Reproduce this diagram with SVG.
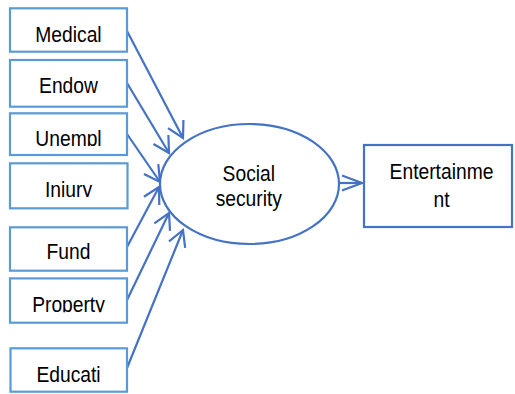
<svg xmlns="http://www.w3.org/2000/svg" width="515" height="394" viewBox="0 0 515 394">
  <style>
    .box { fill: #ffffff; stroke: #5B9BD5; stroke-width: 2.2; }
    .lbl { font-family: "Liberation Sans", Arial, sans-serif; font-size: 22px; fill: #000000; text-anchor: middle; }
    .conn { stroke: #4472C4; stroke-width: 2.2; fill: none; }
    .main { fill: #ffffff; stroke: #4472C4; stroke-width: 2.2; }
  </style>
  <defs>
    <marker id="arr" markerUnits="userSpaceOnUse" markerWidth="24" markerHeight="24" refX="19.7" refY="12" orient="auto" overflow="visible">
      <path d="M4,3.3 L19.7,12 L4,20.7" fill="none" stroke="#4472C4" stroke-width="2.2"/>
    </marker>
    <marker id="arrR" markerUnits="userSpaceOnUse" markerWidth="24" markerHeight="24" refX="22" refY="12" orient="auto" overflow="visible">
      <path d="M2,4.5 L22,12 L2,19.5" fill="none" stroke="#4472C4" stroke-width="2.2"/>
    </marker>
    <clipPath id="clipUnempl"><rect x="0" y="100" width="140" height="46"/></clipPath>
    <clipPath id="clipInjury"><rect x="0" y="160" width="140" height="37"/></clipPath>
    <clipPath id="clipProperty"><rect x="0" y="270" width="140" height="42.2"/></clipPath>
  </defs>

  <g id="connectors">
    <line class="conn" x1="127" y1="31" x2="183" y2="138" marker-end="url(#arr)"/>
    <line class="conn" x1="127" y1="83" x2="169" y2="153" marker-end="url(#arr)"/>
    <line class="conn" x1="127" y1="134" x2="160" y2="182" marker-end="url(#arr)"/>
    <line class="conn" x1="127" y1="247" x2="159" y2="187" marker-end="url(#arr)"/>
    <line class="conn" x1="127" y1="300" x2="169" y2="213" marker-end="url(#arr)"/>
    <line class="conn" x1="127" y1="368" x2="183" y2="230" marker-end="url(#arr)"/>
    <line class="conn" x1="339" y1="183" x2="362" y2="183" marker-end="url(#arrR)"/>
  </g>

  <g id="medical">
    <rect class="box" x="10" y="8.3" width="117" height="43.4"/>
    <text class="lbl" x="68.5" y="41.7" textLength="66.3" lengthAdjust="spacingAndGlyphs">Medical</text>
  </g>
  <g id="endow">
    <rect class="box" x="10" y="60" width="117" height="46.7"/>
    <text class="lbl" x="68.5" y="92.7" textLength="58.8" lengthAdjust="spacingAndGlyphs">Endow</text>
  </g>
  <g id="unempl">
    <rect class="box" x="10" y="113.3" width="117" height="41.7"/>
    <text class="lbl" x="68.5" y="145.5" textLength="66.3" lengthAdjust="spacingAndGlyphs" clip-path="url(#clipUnempl)">Unempl</text>
  </g>
  <g id="injury">
    <rect class="box" x="10" y="163.3" width="117.5" height="45"/>
    <text class="lbl" x="68.5" y="196.5" textLength="47.1" lengthAdjust="spacingAndGlyphs" clip-path="url(#clipInjury)">Injury</text>
  </g>
  <g id="fund">
    <rect class="box" x="10" y="227.3" width="117" height="43.4"/>
    <text class="lbl" x="68.5" y="258.8" textLength="43.9" lengthAdjust="spacingAndGlyphs">Fund</text>
  </g>
  <g id="property">
    <rect class="box" x="10" y="278.4" width="117" height="44.3"/>
    <text class="lbl" x="68.5" y="311.6" textLength="72.7" lengthAdjust="spacingAndGlyphs" clip-path="url(#clipProperty)">Property</text>
  </g>
  <g id="educati">
    <rect class="box" x="10.5" y="348.3" width="116.5" height="43.4"/>
    <text class="lbl" x="68.5" y="381.7" textLength="64.2" lengthAdjust="spacingAndGlyphs">Educati</text>
  </g>

  <g id="social-security">
    <ellipse class="main" cx="249.5" cy="184" rx="89.5" ry="60"/>
    <text class="lbl" x="248.8" y="180.5" textLength="52.4" lengthAdjust="spacingAndGlyphs">Social</text>
    <text class="lbl" x="248.8" y="205.5" textLength="66.3" lengthAdjust="spacingAndGlyphs">security</text>
  </g>

  <g id="entertainment">
    <rect class="main" x="364" y="145" width="148" height="82" stroke-width="2.5"/>
    <text class="lbl" x="441.5" y="179.3" textLength="103.8" lengthAdjust="spacingAndGlyphs">Entertainme</text>
    <text class="lbl" x="441.5" y="206.7" textLength="16.1" lengthAdjust="spacingAndGlyphs">nt</text>
  </g>
</svg>
